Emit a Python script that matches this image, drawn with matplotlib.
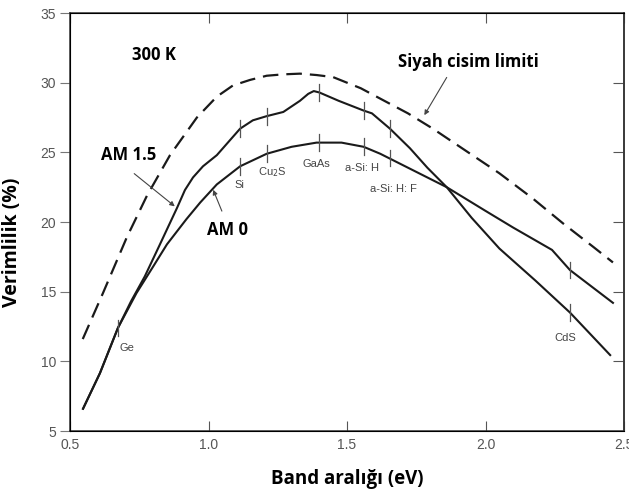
import numpy as np
import matplotlib.pyplot as plt

plt.rcParams["font.family"] = ["Open Sans", "DejaVu Sans"]

# %% Data (band gap in eV, efficiency in %)
bb_gap = [0.546, 0.619, 0.705, 0.778, 0.861, 0.958, 1.03, 1.088, 1.15,
          1.21, 1.27, 1.33, 1.39, 1.45, 1.55, 1.63, 1.72, 1.81, 1.93,
          2.05, 2.17, 2.28, 2.39, 2.46]
bb_eff = [11.6, 14.9, 18.9, 21.9, 24.8, 27.5, 29.0, 29.8, 30.2,
          30.5, 30.6, 30.65, 30.55, 30.4, 29.6, 28.75, 27.8, 26.7, 25.1,
          23.5, 21.7, 19.9, 18.2, 17.1]

am15_gap = [0.547, 0.608, 0.673, 0.72, 0.77, 0.82, 0.886, 0.915, 0.944, 0.98,
            1.03, 1.114, 1.16, 1.21, 1.27, 1.33, 1.36, 1.38, 1.40, 1.47,
            1.56, 1.59, 1.655, 1.727, 1.79, 1.86, 1.95, 2.05, 2.18, 2.305, 2.45]
am15_eff = [6.6, 9.15, 12.4, 14.3, 16.1, 18.2, 21.0, 22.3, 23.2, 24.0,
            24.8, 26.7, 27.3, 27.6, 27.9, 28.7, 29.2, 29.4, 29.3, 28.7,
            28.0, 27.8, 26.7, 25.3, 23.9, 22.5, 20.3, 18.1, 15.8, 13.5, 10.45]

am0_gap = [0.547, 0.608, 0.673, 0.74, 0.80, 0.85, 0.92, 0.97, 1.03, 1.114,
           1.21, 1.30, 1.39, 1.48, 1.56, 1.62, 1.69, 1.77, 1.86, 2.0,
           2.1, 2.24, 2.305, 2.46]
am0_eff = [6.6, 9.15, 12.4, 14.9, 16.8, 18.4, 20.2, 21.4, 22.7, 24.0,
           24.9, 25.4, 25.7, 25.7, 25.4, 24.9, 24.2, 23.4, 22.5, 20.8,
           19.6, 18.0, 16.55, 14.2]

# semiconductor markers on the curves
materials = ["Ge", "Si", "Cu$_2$S", "GaAs", "a-Si: H", "a-Si: H: F", "CdS"]
mat_gap = [0.673, 1.114, 1.21, 1.40, 1.56, 1.655, 2.305]
mat_am15 = [12.4, 26.7, 27.6, 29.3, 28.0, 26.7, 13.5]
mat_am0 = [12.4, 24.0, 24.9, 25.7, 25.4, 24.6, 16.55]
mat_label_x = [0.706, 1.11, 1.23, 1.39, 1.555, 1.666, 2.287]
mat_label_y = [10.95, 22.65, 23.6, 24.2, 23.85, 22.4, 11.67]

# %% Plot
fig = plt.figure(figsize=(6.29, 4.96), dpi=100)
ax = fig.add_axes([0.1113, 0.131, 0.8808, 0.8427])

ax.plot(bb_gap, bb_eff, color="#1a1a1a", lw=1.6, ls=(0, (7, 3.6)))
ax.plot(am15_gap, am15_eff, color="#1a1a1a", lw=1.5)
ax.plot(am0_gap, am0_eff, color="#1a1a1a", lw=1.5)

tick_h = 0.6
for g, a, b in zip(mat_gap, mat_am15, mat_am0):
    ax.plot([g, g], [a - tick_h, a + tick_h], color="#555555", lw=0.9)
    if abs(a - b) > 0.5:
        ax.plot([g, g], [b - tick_h, b + tick_h], color="#555555", lw=0.9)

for name, lx, ly in zip(materials, mat_label_x, mat_label_y):
    ax.text(lx, ly, name, fontsize=8, color="#444444",
            ha="center", va="center", family=["Liberation Sans"])

# bold annotations
ax.text(0.803, 32.0, "300 K", fontsize=12, fontweight="bold", ha="center", va="center")
ax.text(0.71, 24.8, "AM 1.5", fontsize=12, fontweight="bold", ha="center", va="center")
ax.text(1.07, 19.4, "AM 0", fontsize=12, fontweight="bold", ha="center", va="center")
ax.text(1.937, 31.5, "Siyah cisim limiti", fontsize=12, fontweight="bold",
        ha="center", va="center")

arrow = dict(arrowstyle="-|>", color="#444444", lw=0.8, mutation_scale=7)
ax.annotate("", xy=(0.886, 21.0), xytext=(0.724, 23.6), arrowprops=arrow)
ax.annotate("", xy=(1.013, 22.5), xytext=(1.052, 20.6), arrowprops=arrow)
ax.annotate("", xy=(1.774, 27.5), xytext=(1.865, 30.55), arrowprops=arrow)

# axes styling
ax.set_xlim(0.5, 2.5)
ax.set_ylim(5, 35)
ax.set_xticks([0.5, 1.0, 1.5, 2.0, 2.5])
ax.set_xticklabels(["0.5", "1.0", "1.5", "2.0", "2.5"])
ax.set_yticks([5, 10, 15, 20, 25, 30, 35])
for s in ax.spines.values():
    s.set_linewidth(1.1)
    s.set_color("#333333")
ax.tick_params(axis="x", direction="in", top=True, length=7, width=0.8,
               color="#555555", labelsize=10, labelcolor="#555555", pad=5)
ax.tick_params(axis="y", direction="out", length=7, width=0.8,
               color="#777777", labelsize=10, labelcolor="#555555", pad=3)
for lab in ax.get_xticklabels() + ax.get_yticklabels():
    lab.set_family(["Liberation Sans"])

# right-hand ticks point inward, no labels
right = ax.twinx()
right.set_ylim(ax.get_ylim())
right.set_yticks([10, 15, 20, 25, 30])
right.tick_params(axis="y", direction="in", length=8, width=0.8,
                  color="#555555", labelright=False)
right.spines["right"].set_linewidth(1.1)
right.spines["right"].set_color("#333333")

ax.set_xlabel("Band aralığı (eV)", fontsize=13.5, fontweight="bold", labelpad=12)
ax.set_ylabel("Verimlilik (%)", fontsize=14, fontweight="bold")
ax.yaxis.set_label_coords(-0.087, 0.452)

fig.savefig("out.png", dpi=100)
